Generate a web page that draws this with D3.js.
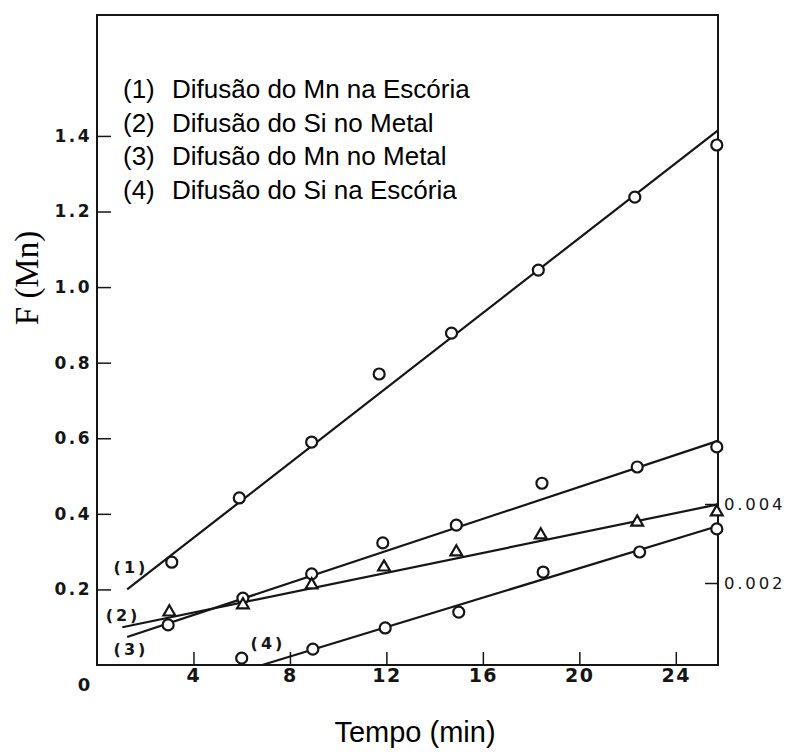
<!DOCTYPE html>
<html>
<head>
<meta charset="utf-8">
<script src="https://cdn.jsdelivr.net/npm/d3@7/dist/d3.min.js"></script>
<style>
  body { margin: 0; background: #fff; }
  svg { display: block; }
</style>
</head>
<body>
<div id="graph"></div>
<script>
// Données (tempo em min, F(Mn))
const legendNums = ["(1)", "(2)", "(3)", "(4)"];
const legendNames = [
  "Difusão do Mn na Escória",
  "Difusão do Si no Metal",
  "Difusão do Mn no Metal",
  "Difusão do Si na Escória"
];

const mnEscoria = [[3.1, 0.272], [5.9, 0.442], [8.9, 0.59], [11.7, 0.77], [14.7, 0.878], [18.3, 1.045], [22.3, 1.238], [25.7, 1.376]];
const siMetal = [[3.0, 0.14], [6.05, 0.159], [8.9, 0.212], [11.9, 0.259], [14.9, 0.299], [18.4, 0.344], [22.4, 0.378], [25.7, 0.405]];
const mnMetal = [[2.95, 0.106], [6.05, 0.177], [8.9, 0.241], [11.85, 0.323], [14.9, 0.37], [18.45, 0.481], [22.4, 0.524], [25.7, 0.577]];
const siEscoria = [[6.0, 0.018], [8.95, 0.042], [11.95, 0.098], [15.0, 0.14], [18.5, 0.246], [22.5, 0.299], [25.7, 0.36]];

// retas ajustadas : [x0, y0, x1, y1]
const fitLines = [
  [1.25, 0.2, 25.75, 1.415],
  [1.05, 0.10, 25.75, 0.425],
  [1.25, 0.074, 25.75, 0.593],
  [6.85, 0.0, 25.75, 0.368]
];
// rótulos (1)..(4) dans le graphique
const curveLabels = [[1.41, 0.257], [1.08, 0.13], [1.41, 0.04], [7.09, 0.058]];

const xTicks = [4, 8, 12, 16, 20, 24];
const yTicks = [0.2, 0.4, 0.6, 0.8, 1.0, 1.2, 1.4];
const yRightTicks = [0.002, 0.004];

const W = 787, H = 752;
const svg = d3.select("#graph").append("svg")
  .attr("width", W).attr("height", H);

const x = d3.scaleLinear().domain([0, 25.75]).range([97, 718]);
const y = d3.scaleLinear().domain([0, 1.72]).range([665, 15]);
const yRight = d3.scaleLinear().domain([0, 0.01638]).range([662, 15]);

const ink = "#151515";

// Cadre
svg.append("rect")
  .attr("x", x(0)).attr("y", y(1.72))
  .attr("width", x(25.75) - x(0)).attr("height", y(0) - y(1.72))
  .attr("fill", "none").attr("stroke", ink).attr("stroke-width", 2);

// Axes
const tickFont = "'DejaVu Sans', sans-serif";

const gx = svg.append("g")
  .attr("transform", `translate(0,${y(0)})`)
  .call(d3.axisBottom(x).tickValues(xTicks).tickSizeInner(-13).tickSizeOuter(0).tickPadding(3));
gx.select(".domain").remove();
gx.selectAll("text").style("font-family", tickFont).style("font-weight", "bold")
  .style("font-size", "19px").style("letter-spacing", "1.5px").attr("fill", ink);
gx.selectAll("line").attr("stroke", ink).attr("stroke-width", 1.5);

const gy = svg.append("g")
  .attr("transform", `translate(${x(0)},0)`)
  .call(d3.axisLeft(y).tickValues(yTicks).tickFormat(d3.format(".1f")).tickSizeInner(-14).tickSizeOuter(0).tickPadding(5));
gy.select(".domain").remove();
gy.selectAll("text").style("font-family", tickFont).style("font-weight", "bold")
  .style("font-size", "17px").style("letter-spacing", "2.5px").attr("fill", ink);
gy.selectAll("line").attr("stroke", ink).attr("stroke-width", 1.5);

const gr = svg.append("g")
  .attr("transform", `translate(${x(25.75)},0)`)
  .call(d3.axisRight(yRight).tickValues(yRightTicks).tickFormat(d3.format(".3f")).tickSizeInner(-13).tickSizeOuter(0).tickPadding(6));
gr.select(".domain").remove();
gr.selectAll("text").style("font-family", tickFont)
  .style("font-size", "16.5px").style("letter-spacing", "2.8px").attr("fill", ink);
gr.selectAll("line").attr("stroke", ink).attr("stroke-width", 1.5);

// "0" no canto
svg.append("text")
  .attr("x", x(0) - 13).attr("y", y(0) + 13).attr("dy", "0.71em")
  .attr("text-anchor", "middle")
  .style("font-family", tickFont).style("font-weight", "bold").style("font-size", "18px")
  .attr("fill", ink).text("0");

// Retas
svg.selectAll(".fit")
  .data(fitLines)
  .enter().append("line")
  .attr("class", "fit")
  .attr("x1", d => x(d[0])).attr("y1", d => y(d[1]))
  .attr("x2", d => x(d[2])).attr("y2", d => y(d[3]))
  .attr("stroke", ink).attr("stroke-width", 2.2);

// Pontos
const circleSets = [mnEscoria, mnMetal, siEscoria];
circleSets.forEach(set => {
  svg.append("g").selectAll("circle")
    .data(set)
    .enter().append("circle")
    .attr("cx", d => x(d[0])).attr("cy", d => y(d[1]))
    .attr("r", 5.5)
    .attr("fill", "#fff").attr("stroke", ink).attr("stroke-width", 2.2);
});

svg.append("g").selectAll("path")
  .data(siMetal)
  .enter().append("path")
  .attr("d", d3.symbol(d3.symbolTriangle, 60))
  .attr("transform", d => `translate(${x(d[0])},${y(d[1])})`)
  .attr("fill", "#fff").attr("stroke", ink).attr("stroke-width", 2.2);

// Rótulos das curvas
svg.selectAll(".curve-label")
  .data(curveLabels)
  .enter().append("text")
  .attr("class", "curve-label")
  .attr("x", d => x(d[0])).attr("y", d => y(d[1]))
  .attr("dy", "0.35em")
  .attr("text-anchor", "middle")
  .style("font-family", tickFont).style("font-weight", "bold")
  .style("font-size", "16px").style("letter-spacing", "3px")
  .attr("fill", ink)
  .text((d, i) => legendNums[i]);

// Legenda
const legend = svg.append("g").attr("class", "legend");
legendNames.forEach((name, i) => {
  const by = 98 + i * 33.5;
  legend.append("text")
    .attr("x", 123).attr("y", by)
    .style("font-family", "'Liberation Sans', Arial, sans-serif")
    .style("font-size", "26px").attr("fill", "#000")
    .text(legendNums[i]);
  legend.append("text")
    .attr("x", 172).attr("y", by)
    .style("font-family", "'Liberation Sans', Arial, sans-serif")
    .style("font-size", "26px").attr("fill", "#000")
    .text(name);
});

// Títulos dos eixos
svg.append("text")
  .attr("transform", "translate(38,278) rotate(-90)")
  .attr("text-anchor", "middle")
  .style("font-family", "'Liberation Serif', 'Times New Roman', serif")
  .style("font-size", "33px").attr("fill", "#000")
  .text("F (Mn)");

svg.append("text")
  .attr("x", 415).attr("y", 742)
  .attr("text-anchor", "middle")
  .style("font-family", "'Liberation Sans', Arial, sans-serif")
  .style("font-size", "29px").attr("fill", "#000")
  .text("Tempo (min)");
</script>
</body>
</html>
